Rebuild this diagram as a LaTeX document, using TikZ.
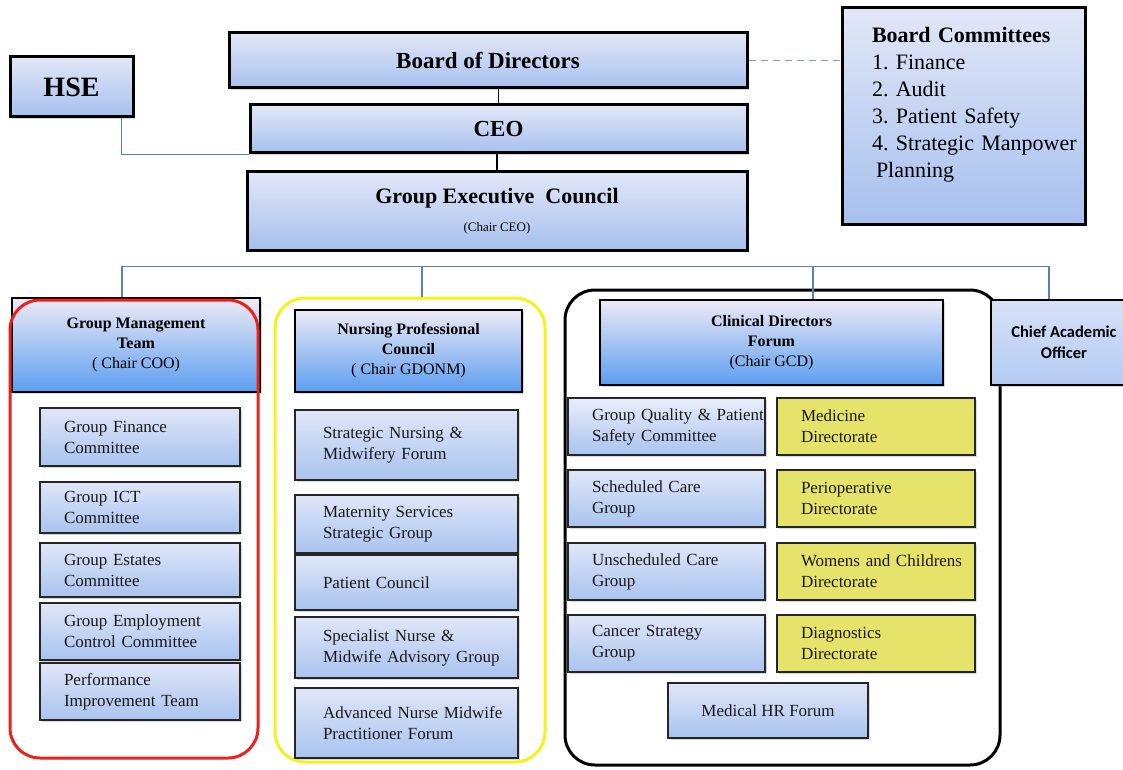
\documentclass[tikz,border=0pt]{standalone}
\usepackage{fontspec}
\setmainfont{Liberation Serif}
\newfontfamily\caofont{Carlito}
\frenchspacing
\usepackage{xcolor}
\usepackage{tikz}
\usetikzlibrary{positioning, calc, shadows}
\definecolor{boxtop}{HTML}{E2E7F7}
\definecolor{boxbot}{HTML}{A7C0EE}
\definecolor{headtop}{HTML}{EEEAF5}
\definecolor{headbot}{HTML}{5C9DF0}
\definecolor{subtop}{HTML}{E0E6F8}
\definecolor{subbot}{HTML}{A9C3EF}
\definecolor{caotop}{HTML}{D6E1F7}
\definecolor{caobot}{HTML}{B3CBF2}
\definecolor{diryellow}{HTML}{E6E36A}
\definecolor{linkblue}{HTML}{5A80B4}
\definecolor{dashgrey}{HTML}{8C9BB0}
\definecolor{grpred}{HTML}{E8231E}
\definecolor{grpyellow}{HTML}{F2F21E}
\tikzstyle{topbox} = [rectangle, draw=black, line width=3pt, top color=boxtop, bottom color=boxbot, align=center, font=\fontsize{23}{27}\selectfont\bfseries, drop shadow={shadow xshift=2pt, shadow yshift=-2pt, opacity=0.3}]
\tikzstyle{head} = [rectangle, draw=black, line width=2.8pt, top color=headtop, bottom color=headbot, align=center, font=\fontsize{16}{20}\selectfont\bfseries, drop shadow={shadow xshift=2pt, shadow yshift=-2pt, opacity=0.3}]
\tikzstyle{subbox} = [rectangle, draw=black!85, line width=2.2pt, top color=subtop, bottom color=subbot, align=left, inner xsep=2pt, font=\fontsize{17}{21}\selectfont, text=black!90, execute at begin node={\leftskip=22pt}, drop shadow={shadow xshift=1.5pt, shadow yshift=-2pt, opacity=0.3}]
\tikzstyle{npcsub} = [subbox, execute at begin node={\leftskip=26pt}]
\tikzstyle{dirbox} = [subbox, top color=diryellow, bottom color=diryellow]
\tikzstyle{group} = [rectangle, rounded corners=30pt, line width=3pt]
\tikzstyle{link} = [draw=linkblue, line width=1.3pt]

\begin{document}
\begin{tikzpicture}[x=1pt, y=1pt]
	\useasboundingbox (0,0) rectangle (1123,-770);
		\node (bod) [topbox, minimum width=518pt, minimum height=55pt] at (488,-60.5) {Board of Directors};
		\node (hse) [topbox, minimum width=123pt, minimum height=60pt, font=\fontsize{28}{32}\selectfont\bfseries] at (71.5,-87) {HSE};
		\node (ceo) [topbox, minimum width=497pt, minimum height=48pt] at (498.5,-129) {CEO};
		\node (gec) [topbox, minimum width=500pt, minimum height=78pt, font=\fontsize{22}{28}\selectfont\bfseries] at (497,-211) {Group Executive\ \ Council\\{\fontsize{13}{15}\selectfont\mdseries (Chair CEO)}};
		\node (bc) [topbox, text width=239pt, inner xsep=2pt, minimum height=216pt, align=left, font=\fontsize{22}{27}\selectfont, execute at begin node={\leftskip=28pt}] at (963.5,-116) {\textbf{Board Committees}\\1. Finance\\2. Audit\\3. Patient Safety\\4. Strategic Manpower\\\hspace*{4pt}Planning\\\mbox{}};
		\draw [line width=1.3pt] (ceo.north) -- (ceo.north |- bod.south);
		\draw [line width=1.3pt] (gec.north) -- (gec.north |- ceo.south);
		\draw [link] ($(hse.south)+(50,0)$) |- (ceo.south west);
		\draw [draw=dashgrey, line width=1.5pt, dash pattern=on 7pt off 5pt] (bod.east) -- (bod.east -| bc.west);

		\node (gmt) [head, minimum width=248pt, minimum height=94pt] at (136,-345) {Group Management\\Team\\{\mdseries ( Chair COO)}};
		\node (gmtgrp) [group, draw=grpred, minimum width=248pt, minimum height=458pt] at (134,-529) {};
		\node (gfc) [subbox, text width=196pt, minimum height=58pt] at (140,-437) {Group Finance\\Committee};
		\node (gict) [subbox, text width=196pt, minimum height=51pt] at (140,-507.5) {Group ICT\\Committee};
		\node (gest) [subbox, text width=196pt, minimum height=54pt] at (140,-570) {Group Estates\\Committee};
		\node (gemp) [subbox, text width=196pt, minimum height=57pt] at (140,-631.5) {Group Employment\\Control Committee};
		\node (pit) [subbox, text width=196pt, minimum height=57pt] at (140,-691.5) {Performance\\Improvement Team};

		\node (npcgrp) [group, draw=grpyellow, minimum width=270pt, minimum height=464pt] at (410,-530) {};
		\node (npc) [head, minimum width=227pt, minimum height=82pt] at (408.5,-351) {Nursing Professional\\Council\\{\mdseries ( Chair GDONM)}};
		\node (snm) [npcsub, text width=219pt, minimum height=70pt] at (406.5,-445) {Strategic Nursing \&\\Midwifery Forum};
		\node (mss) [npcsub, text width=219pt, minimum height=58pt] at (406.5,-524) {Maternity Services\\Strategic Group};
		\node (pc) [npcsub, text width=219pt, minimum height=55pt] at (406.5,-582.5) {Patient Council};
		\node (snma) [npcsub, text width=219pt, minimum height=61pt] at (406.5,-647.5) {Specialist Nurse \&\\Midwife Advisory Group};
		\node (anmp) [npcsub, text width=219pt, minimum height=70pt] at (406.5,-723) {Advanced Nurse Midwife\\Practitioner Forum};

		\node (cdfgrp) [group, draw=black, minimum width=435pt, minimum height=475pt] at (782.5,-527.5) {};
		\node (cdf) [head, minimum width=343pt, minimum height=85pt] at (771.5,-342.5) {Clinical Directors\\Forum\\{\mdseries (Chair GCD)}};
		\node (gqps) [subbox, text width=193pt, minimum height=57pt, top color=subtop!70!white] at (666.5,-426.5) {\mbox{Group Quality \& Patient}\\Safety Committee};
		\node (scg) [subbox, text width=193pt, minimum height=57pt] at (666.5,-498.5) {Scheduled Care\\Group};
		\node (ucg) [subbox, text width=193pt, minimum height=57pt] at (666.5,-571.5) {Unscheduled Care\\Group};
		\node (csg) [subbox, text width=193pt, minimum height=57pt] at (666.5,-643.5) {Cancer Strategy\\Group};
		\node (med) [dirbox, text width=194pt, minimum height=57pt] at (876,-426.5) {Medicine\\Directorate};
		\node (peri) [dirbox, text width=194pt, minimum height=57pt] at (876,-498.5) {Perioperative\\Directorate};
		\node (wc) [dirbox, text width=194pt, minimum height=57pt] at (876,-571.5) {Womens and Childrens\\Directorate};
		\node (diag) [dirbox, text width=194pt, minimum height=57pt] at (876,-643.5) {Diagnostics\\Directorate};
		\node (mhr) [subbox, minimum width=200pt, minimum height=55pt, align=center, execute at begin node={}] at (768,-710.5) {Medical HR Forum};

		\node (cao) [topbox, line width=2pt, top color=caotop, bottom color=caobot, minimum width=147pt, minimum height=85pt, font=\fontsize{16.5}{21}\selectfont\caofont\bfseries] at (1064,-342.5) {Chief Academic\\Officer};

		\coordinate (bus) at ($(gec.south)+(0,-15)$);
		\coordinate (gmttop) at ($(gmt.north)+(-14,0)$);
		\coordinate (npctop) at ($(npcgrp.north)+(12,0)$);
		\coordinate (cdftop) at ($(cdf.north)+(41.5,0)$);
		\coordinate (caotop) at ($(cao.north)+(-15,0)$);
		\draw [link] (gmttop) |- (bus) -| (caotop);
		\draw [link] (npctop) -- (npctop |- bus);
		\draw [link] (cdftop) -- (cdftop |- bus);
	\end{tikzpicture}
\end{document}
